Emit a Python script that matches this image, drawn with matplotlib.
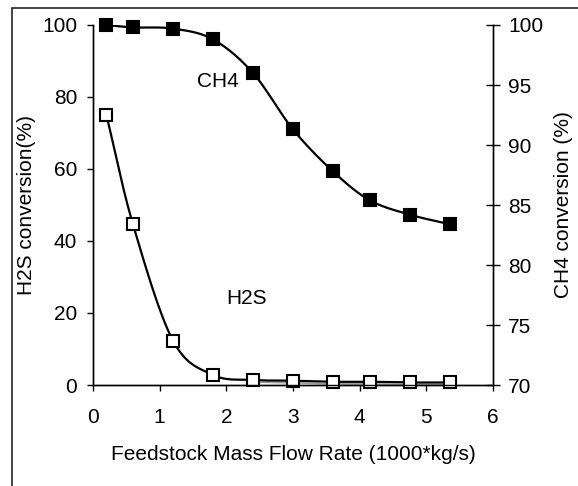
import matplotlib
matplotlib.use("Agg")
import matplotlib.pyplot as plt
import numpy as np
from matplotlib.patches import Rectangle

plt.rcParams["font.family"] = ["Liberation Sans", "DejaVu Sans"]

flow_rate = [0.2, 0.6, 1.2, 1.8, 2.4, 3.0, 3.6, 4.15, 4.75, 5.35]
h2s_conversion = [75.1, 44.6, 12.3, 2.8, 1.4, 1.2, 0.9, 0.9, 0.7, 0.7]
ch4_conversion = [100.0, 99.8, 99.7, 98.8, 96.0, 91.3, 87.8, 85.4, 84.2, 83.4]

x_ticks = [0, 1, 2, 3, 4, 5, 6]
h2s_ticks = [0, 20, 40, 60, 80, 100]
ch4_ticks = [70, 75, 80, 85, 90, 95, 100]


def smooth_curve(x, y, steps=30):
    # Catmull-Rom through the points, like a smoothed spreadsheet line
    x = np.asarray(x, dtype=float)
    y = np.asarray(y, dtype=float)
    px = np.concatenate([[2 * x[0] - x[1]], x, [2 * x[-1] - x[-2]]])
    py = np.concatenate([[2 * y[0] - y[1]], y, [2 * y[-1] - y[-2]]])
    t = np.linspace(0, 1, steps)
    out_x, out_y = [], []
    for i in range(1, len(px) - 2):
        for p, out in ((px, out_x), (py, out_y)):
            p0, p1, p2, p3 = p[i - 1], p[i], p[i + 1], p[i + 2]
            out.extend(0.5 * (2 * p1 + (-p0 + p2) * t
                              + (2 * p0 - 5 * p1 + 4 * p2 - p3) * t ** 2
                              + (-p0 + 3 * p1 - 3 * p2 + p3) * t ** 3))
    return np.array(out_x), np.array(out_y)


W, H = 578, 486
fig = plt.figure(figsize=(W / 100, H / 100), dpi=100)
ax = fig.add_axes([93 / W, 1 - 385 / H, (493 - 93) / W, (385 - 25) / H])
ax2 = ax.twinx()

fig.patches.append(Rectangle((11.5 / W, -0.1), 1.2, 1 - 8 / H + 0.1,
                             transform=fig.transFigure, fill=False,
                             edgecolor="#222222", linewidth=1.2))

# faint grey line under the H2S tail
ax.plot(flow_rate[4:], [v - 0.6 for v in h2s_conversion[4:]], color="#999999", lw=1.2, zorder=2)

sx, sy = smooth_curve(flow_rate, h2s_conversion)
ax.plot(sx, sy, color="black", lw=1.6, zorder=3)
ax.plot(flow_rate, h2s_conversion, ls="none", marker="s", ms=8.5,
        mfc="white", mec="black", mew=1.5, zorder=4, clip_on=False)

cx, cy = smooth_curve(flow_rate, ch4_conversion)
ax2.plot(cx, cy, color="black", lw=1.6, zorder=3)
ax2.plot(flow_rate, ch4_conversion, ls="none", marker="s", ms=8.5,
         mfc="black", mec="black", mew=1.5, zorder=4, clip_on=False)

ax.set_xlim(0, 6)
ax.set_ylim(0, 100)
ax2.set_ylim(70, 100)
ax.set_xticks(x_ticks)
ax.set_yticks(h2s_ticks)
ax2.set_yticks(ch4_ticks)

for a in (ax, ax2):
    a.spines["top"].set_visible(False)
    for s in a.spines.values():
        s.set_linewidth(1.0)
ax.tick_params(axis="both", direction="out", length=4.5, width=1, labelsize=15)
ax.tick_params(axis="x", pad=12)
ax.tick_params(axis="y", pad=7)
ax2.tick_params(axis="y", direction="inout", length=9.5, width=1, labelsize=15, pad=6)

ax.set_xlabel("Feedstock Mass Flow Rate (1000*kg/s)", fontsize=15, labelpad=13)
ax.set_ylabel("H2S conversion(%)", fontsize=15, labelpad=4)
ax2.set_ylabel("CH4 conversion (%)", fontsize=15, labelpad=8)

ax.text(1.88, 84.2, "CH4", fontsize=15, ha="center", va="center")
ax.text(2.30, 23.9, "H2S", fontsize=15, ha="center", va="center")

fig.savefig("out.png", dpi=100)
